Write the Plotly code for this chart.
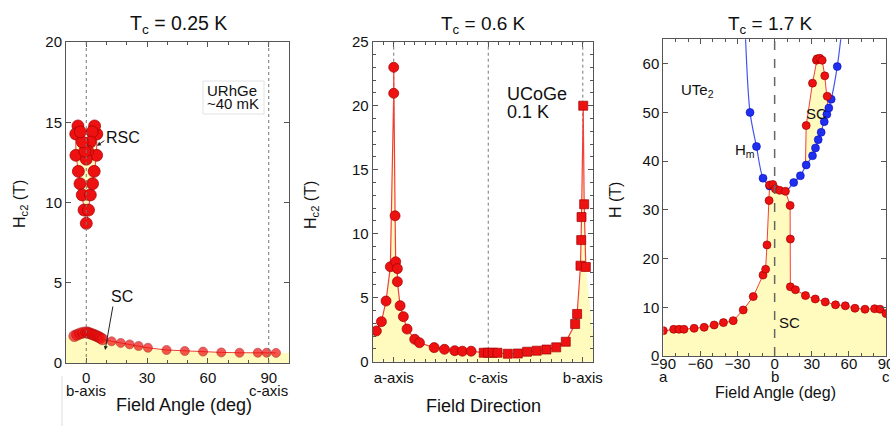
import plotly.graph_objects as go

# ---------------- data ----------------
# Panel 1: URhGe
urhge_sc_angle = [-5.9, -4.5, -3.0, -1.5, 0.0, 1.0, 2.0, 3.0, 4.0, 5.0, 6.0, 7.0, 8.0,
                  12.5, 17.0, 21.4, 25.8, 30.4, 39.6, 48.6, 57.6, 66.6, 75.6, 84.6, 89.0, 93.6]
urhge_sc_field = [1.68, 1.76, 1.84, 1.89, 1.92, 1.88, 1.84, 1.79, 1.74, 1.69, 1.63, 1.56, 1.48,
                  1.35, 1.25, 1.16, 1.06, 0.95, 0.81, 0.75, 0.71, 0.66, 0.64, 0.64, 0.64, 0.63]
urhge_sc_edge_angle = [-10, 100]
urhge_sc_edge_field = [1.56, 0.62]
urhge_rsc_angle = [-4.1, -5.2, -5.1, -3.9, -3.1, -2.0, -1.1, 0.0, 1.1, 2.0, 3.1, 3.9, 5.1, 5.2,
                   4.1, 2.9, 2.0, 0.7, 0.0, -0.7, -2.0, -2.9, -4.1]
urhge_rsc_field = [14.77, 14.27, 12.94, 11.94, 11.17, 10.47, 9.53, 8.7, 9.53, 10.47, 11.17, 11.94,
                   12.94, 14.27, 14.77, 14.4, 13.77, 13.2, 12.7, 13.2, 13.77, 14.4, 14.77]

# Panel 2: UCoGe (a -> c -> b, degrees)
ucoge_circ_angle = [-16.5, -11.7, -7.3, -3.2, 0.0, 0.0, 1.3, 1.9, 3.5, 3.5, 6.1, 9.2, 12.7,
                    20.0, 24.5, 38.5, 48.3, 58.1, 65.4, 73.7]
ucoge_circ_field = [2.4, 3.13, 4.74, 7.42, 20.97, 23.0, 11.4, 7.81, 7.27, 6.25, 4.38, 3.52, 2.55,
                    1.75, 1.48, 1.1, 0.97, 0.86, 0.82, 0.82]
ucoge_sq_angle = [85.7, 89.9, 94.3, 98.8, 108.6, 118.1, 127.0, 136.2, 145.4, 154.7, 163.8,
                  172.7, 174.6, 177.8, 178.5, 178.8, 180.4, 181.3, 182.9]
ucoge_sq_field = [0.70, 0.70, 0.70, 0.70, 0.62, 0.64, 0.78, 0.86, 0.95, 1.12, 1.56,
                  2.95, 3.73, 7.5, 9.5, 11.3, 20.0, 12.3, 7.4]
ucoge_edge_angle = [-20, 190]
ucoge_edge_field = [2.2, 1.95]
ucoge_axis_ticks = [0, 90, 180]
ucoge_axis_labels = ["a-axis", "c-axis", "b-axis"]

# Panel 3: UTe2
ute2_sc_angle = [-90, -81.6, -77.3, -73.3, -65.1, -57, -48.9, -41.4, -33.5, -25.4, -17.3, -9.4,
                 -7.3, -6.2, -4.5, -4.1, -1.5, 0.6, 4.0, 8.7, 12.5, 12.7, 12.7, 16.8, 24.9, 32.8,
                 40.9, 49.2, 57.1, 64.9, 73, 80.8, 85.2, 90]
ute2_sc_field = [5.2, 5.48, 5.48, 5.48, 5.68, 5.89, 6.37, 6.85, 7.26, 9.45, 12.2, 16.6,
                 17.8, 22.8, 31.9, 35.1, 35.2, 34.3, 34.0, 33.8, 30.9, 24.0, 14.2, 13.6, 12.4, 11.7,
                 11.1, 10.5, 10.3, 9.8, 9.6, 9.7, 9.6, 8.7]
ute2_pocket_angle = [24.9, 25.5, 30.6, 33.8, 34.4, 36.5, 38.4, 40.5, 42.5, 43.0]
ute2_pocket_field = [39.2, 47.3, 56.0, 60.7, 61.0, 61.1, 60.7, 57.5, 53.3, 51.2]
ute2_hm_angle = [-19.9, -14.7, -9.4, -4.1, 15.4, 20.8, 25.5, 30.6, 33.0, 35.2, 37.6, 40.1,
                 42.2, 43.8, 45.7, 50.6]
ute2_hm_field = [50.0, 43.0, 36.5, 34.9, 35.6, 37.0, 39.2, 41.1, 42.7, 44.4, 45.9, 48.1,
                 49.6, 50.9, 52.7, 59.4]
ute2_hm_curve_angle = [-23.8, -19.9, -14.7, -9.4, -4.1, 2.0, 8.7, 15.4, 20.8, 25.5, 30.6,
                       35.2, 40.1, 45.7, 50.6, 54.3]
ute2_hm_curve_field = [67, 50.0, 43.0, 36.5, 34.9, 34.1, 33.8, 35.6, 37.0, 39.2, 41.1,
                       44.4, 48.1, 52.7, 59.4, 67]
ute2_ticks = [-90, -60, -30, 0, 30, 60, 90]

# ---------------- style ----------------
W, H = 890, 426
FONT = "Liberation Sans, Arial, Helvetica, sans-serif"
FILL = "rgba(255,250,190,1)"
RED = "#ee1111"
REDLINE = "#f0403a"
REDEDGE = "#a00000"
BLUE = "#1f2ff0"
BLUELINE = "#4455ee"
AX = "#555555"

def px_x(p):
    return p / W

def px_y(p):
    return (H - p) / H

# plot areas in pixels (left, right, top, bottom)
P1 = (66, 289, 42, 363)
P2 = (372.7, 593.3, 41.7, 361.7)
P3 = (663.3, 886, 39.3, 356)

def dom(p):
    return [px_x(p[0]), px_x(p[1])], [px_y(p[3]), px_y(p[2])]

fig = go.Figure()

def redmark(size, symbol="circle"):
    return dict(color=RED, size=size, symbol=symbol, line=dict(color=REDEDGE, width=0.7))

# ---- Panel 1 ----
f1x = [urhge_sc_edge_angle[0]] + urhge_sc_angle + [urhge_sc_edge_angle[1]]
f1y = [urhge_sc_edge_field[0]] + urhge_sc_field + [urhge_sc_edge_field[1]]
fig.add_trace(go.Scatter(x=f1x, y=f1y, mode="lines", fill="tozeroy", fillcolor=FILL,
                         line=dict(width=0), hoverinfo="skip", xaxis="x", yaxis="y"))
fig.add_trace(go.Scatter(x=urhge_rsc_angle, y=urhge_rsc_field, mode="lines", fill="toself",
                         fillcolor=FILL, line=dict(color=REDLINE, width=1), xaxis="x", yaxis="y"))
fig.add_trace(go.Scatter(x=urhge_rsc_angle[:-1], y=urhge_rsc_field[:-1], mode="markers",
                         marker=redmark(12), xaxis="x", yaxis="y"))
fig.add_trace(go.Scatter(x=urhge_sc_angle, y=urhge_sc_field, mode="lines+markers",
                         line=dict(color=REDLINE, width=1),
                         marker=redmark([11 if a <= 9 else 9 for a in urhge_sc_angle]),
                         xaxis="x", yaxis="y"))

# ---- Panel 2 ----
all2x = ucoge_circ_angle + ucoge_sq_angle
all2y = ucoge_circ_field + ucoge_sq_field
fig.add_trace(go.Scatter(x=[ucoge_edge_angle[0]] + all2x + [ucoge_edge_angle[1]],
                         y=[ucoge_edge_field[0]] + all2y + [ucoge_edge_field[1]],
                         mode="lines", fill="tozeroy", fillcolor=FILL, line=dict(width=0),
                         xaxis="x2", yaxis="y2"))
fig.add_trace(go.Scatter(x=all2x, y=all2y, mode="lines", line=dict(color=REDLINE, width=1.2),
                         xaxis="x2", yaxis="y2"))
fig.add_trace(go.Scatter(x=ucoge_circ_angle, y=ucoge_circ_field, mode="markers",
                         marker=redmark(10), xaxis="x2", yaxis="y2"))
fig.add_trace(go.Scatter(x=ucoge_sq_angle, y=ucoge_sq_field, mode="markers",
                         marker=redmark(9, "square"), xaxis="x2", yaxis="y2"))

# ---- Panel 3 ----
fig.add_trace(go.Scatter(x=ute2_sc_angle, y=ute2_sc_field, mode="lines", fill="tozeroy",
                         fillcolor=FILL, line=dict(color=REDLINE, width=1),
                         xaxis="x3", yaxis="y3"))
back = [(a, f) for a, f in zip(ute2_hm_angle, ute2_hm_field)
        if ute2_pocket_angle[0] < a < ute2_pocket_angle[-1]]
back = back[::-1]
pkx = ute2_pocket_angle + [b[0] for b in back] + [ute2_pocket_angle[0]]
pky = ute2_pocket_field + [b[1] for b in back] + [ute2_pocket_field[0]]
fig.add_trace(go.Scatter(x=pkx, y=pky, mode="lines", fill="toself", fillcolor=FILL,
                         line=dict(width=0), xaxis="x3", yaxis="y3"))
fig.add_trace(go.Scatter(x=ute2_pocket_angle, y=ute2_pocket_field, mode="lines",
                         line=dict(color=REDLINE, width=1), xaxis="x3", yaxis="y3"))
fig.add_trace(go.Scatter(x=ute2_hm_curve_angle, y=ute2_hm_curve_field, mode="lines",
                         line=dict(color=BLUELINE, width=1.2, shape="spline", smoothing=0.9),
                         xaxis="x3", yaxis="y3"))
fig.add_trace(go.Scatter(x=ute2_hm_angle, y=ute2_hm_field, mode="markers",
                         marker=dict(color=BLUE, size=8, line=dict(color="#0000aa", width=0.5)),
                         xaxis="x3", yaxis="y3"))
fig.add_trace(go.Scatter(x=ute2_sc_angle, y=ute2_sc_field, mode="markers",
                         marker=redmark(8), xaxis="x3", yaxis="y3"))
fig.add_trace(go.Scatter(x=ute2_pocket_angle[1:-1], y=ute2_pocket_field[1:-1], mode="markers",
                         marker=redmark(8), xaxis="x3", yaxis="y3"))

# ---------------- axes ----------------
def axstyle(**kw):
    d = dict(showline=True, linecolor=AX, linewidth=1, mirror="ticks", ticks="inside",
             ticklen=5, tickcolor=AX, tickwidth=1, showgrid=False, zeroline=False,
             automargin=False, ticklabeloverflow="allow",
             tickfont=dict(family=FONT, size=15, color="#111"))
    d.update(kw)
    return d

minor = lambda dt: dict(dtick=dt, ticks="inside", ticklen=3, tickcolor=AX, showgrid=False)

d1x, d1y = dom(P1)
d2x, d2y = dom(P2)
d3x, d3y = dom(P3)

fig.update_layout(
    template="none",
    xaxis=axstyle(domain=d1x, anchor="y", range=[-10, 100], tickvals=[0, 30, 60, 90],
                  minor=minor(10), ticklabelstandoff=1),
    yaxis=axstyle(domain=d1y, anchor="x", range=[0, 20], dtick=5),
    xaxis2=axstyle(domain=d2x, anchor="y2", range=[-20, 190], tickvals=ucoge_axis_ticks,
                   ticktext=ucoge_axis_labels, minor=minor(10), ticklabelstandoff=2),
    yaxis2=axstyle(domain=d2y, anchor="x2", range=[0, 25], dtick=5, minor=minor(1)),
    xaxis3=axstyle(domain=d3x, anchor="y3", range=[-90, 90], tickvals=ute2_ticks,
                   minor=minor(10), ticklabelstandoff=-6),
    yaxis3=axstyle(domain=d3y, anchor="x3", range=[0, 65], dtick=10),
)

# guide lines
shapes = []
for xv in [0, 90]:
    shapes.append(dict(type="line", xref="x", yref="y domain", x0=xv, x1=xv, y0=0, y1=1,
                       line=dict(color="#777", width=1, dash="dot"), layer="above"))
for xv in ucoge_axis_ticks:
    shapes.append(dict(type="line", xref="x2", yref="y2 domain", x0=xv, x1=xv, y0=0, y1=1,
                       line=dict(color="#777", width=1, dash="dot"), layer="below"))
shapes.append(dict(type="line", xref="x3", yref="y3 domain", x0=0, x1=0, y0=0, y1=1,
                   line=dict(color="#666", width=1.5, dash="dash"), layer="above"))
shapes.append(dict(type="line", xref="paper", yref="paper", x0=px_x(62), x1=px_x(62),
                   y0=px_y(376), y1=px_y(426), line=dict(color="#dddddd", width=1)))
# faint box round the URhGe label
shapes.append(dict(type="rect", xref="paper", yref="paper", x0=px_x(203), x1=px_x(264),
                   y0=px_y(114), y1=px_y(81), line=dict(color="#e2e2e2", width=1),
                   fillcolor="white", layer="below"))
fig.update_layout(shapes=shapes)

# ---------------- text ----------------
ann = []
def T(x, y, text, size=15, xref="paper", yref="paper", **kw):
    d = dict(x=x, y=y, xref=xref, yref=yref, text=text, showarrow=False,
             xanchor="center", yanchor="middle",
             font=dict(family=FONT, size=size, color="#111"))
    d.update(kw)
    ann.append(d)

# titles
T(px_x(178), px_y(25), "T<sub>c</sub> = 0.25 K", 19.5)
T(px_x(483), px_y(25), "T<sub>c</sub> = 0.6 K", 19)
T(px_x(770), px_y(25), "T<sub>c</sub> = 1.7 K", 19)
# y titles
T(px_x(20), px_y(204), "H<sub>c2</sub> (T)", 16, textangle=-90)
T(px_x(312), px_y(205), "H<sub>c2</sub> (T)", 16, textangle=-90)
T(px_x(615), px_y(200), "H (T)", 16, textangle=-90)
# x titles
T(px_x(184), px_y(405), "Field Angle (deg)", 18)
T(px_x(483), px_y(406), "Field Direction", 18)
T(px_x(775), px_y(392), "Field Angle (deg)", 16)
# sublabels
T(0, px_y(390), "b-axis", 15, xref="x")
T(90, px_y(390), "c-axis", 15, xref="x")
T(-90, px_y(376), "a", 15, xref="x3")
T(0, px_y(376), "b", 15, xref="x3")
T(90, px_y(376), "c", 15, xref="x3")

# in-plot labels panel 1
T(px_x(205), px_y(91), "URhGe", 15, xanchor="left")
T(px_x(205), px_y(104), "~40 mK", 15, xanchor="left")
T(px_x(123), px_y(137), "RSC", 16)
T(px_x(122), px_y(296), "SC", 16)
ann.append(dict(x=5.25, y=13.54, xref="x", yref="y", ax=9, ay=-6, text="", showarrow=True,
                arrowhead=2, arrowsize=0.8, arrowwidth=1, arrowcolor="#222"))
ann.append(dict(x=9.3, y=0.81, xref="x", yref="y", ax=8, ay=-45, text="", showarrow=True,
                arrowhead=2, arrowsize=0.8, arrowwidth=1, arrowcolor="#222"))
# panel 2
T(px_x(505), px_y(94), "UCoGe", 18, xanchor="left")
T(px_x(505), px_y(112), "0.1 K", 18, xanchor="left")
# panel 3
T(px_x(697), px_y(90), "UTe<sub>2</sub>", 15)
T(px_x(745), px_y(150), "H<sub>m</sub>", 15)
T(px_x(816), px_y(114), "SC", 15)
T(px_x(789), px_y(322), "SC", 15)

fig.update_layout(annotations=ann, width=W, height=H, autosize=False,
                  margin=dict(l=0, r=0, t=0, b=0, pad=0), showlegend=False,
                  paper_bgcolor="white", plot_bgcolor="white",
                  font=dict(family=FONT, color="#111"))

fig.write_html("out.html", config={"displayModeBar": False, "staticPlot": True},
               post_script="document.body.style.margin='0';document.body.style.overflow='hidden';")
